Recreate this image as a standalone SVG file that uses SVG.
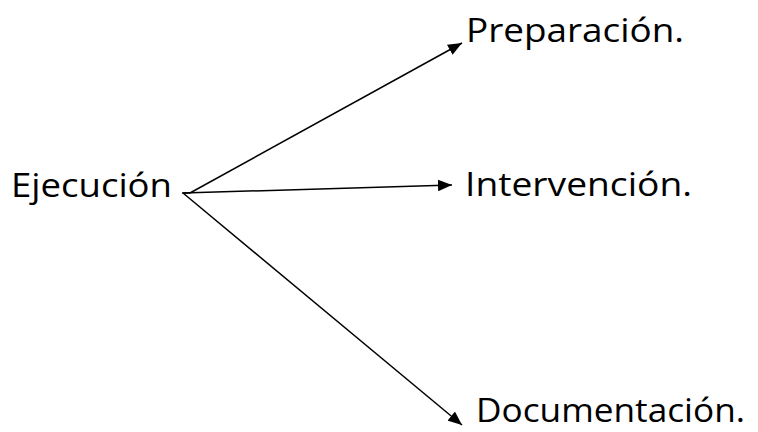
<svg xmlns="http://www.w3.org/2000/svg" width="758" height="432" viewBox="0 0 758 432">
<defs>
<style>
text{font-family:"Open Sans","Noto Sans",sans-serif;font-size:33.5px;fill:#000}
.c{stroke:#000;stroke-width:1.5;fill:none}
</style>
<marker id="ah" viewBox="0 0 12 10" refX="12" refY="5" markerWidth="14" markerHeight="12" markerUnits="userSpaceOnUse" orient="auto">
<path d="M0,0 L12,5 L0,10 z" fill="#000"/>
</marker>
</defs>
<rect width="758" height="432" fill="#fff"/>
<g id="connectors">
<line class="c" x1="182" y1="193" x2="190" y2="193"/>
<path class="c" d="M190,193 L462,43" marker-end="url(#ah)"/>
<path class="c" d="M183,193 L452,185" marker-end="url(#ah)"/>
<path class="c" d="M183,193 L462,425" marker-end="url(#ah)"/>
</g>
<g id="ejecucion"><text x="11" y="197" textLength="161" lengthAdjust="spacingAndGlyphs">Ejecución</text></g>
<g id="preparacion"><text x="466" y="42" textLength="218" lengthAdjust="spacingAndGlyphs">Preparación.</text></g>
<g id="intervencion"><text x="465" y="196" textLength="227" lengthAdjust="spacingAndGlyphs">Intervención.</text></g>
<g id="documentacion"><text x="476" y="422" textLength="269" lengthAdjust="spacingAndGlyphs">Documentación.</text></g>
</svg>
